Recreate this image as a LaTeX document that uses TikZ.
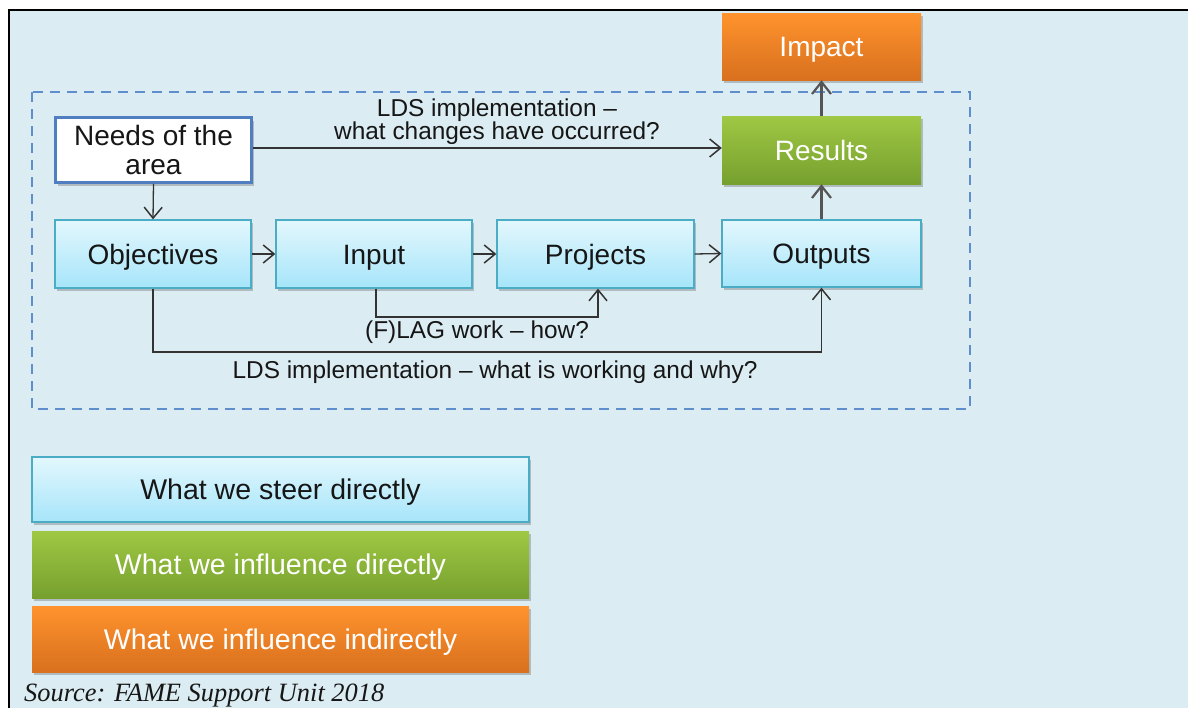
\documentclass[tikz,border=0pt]{standalone}
\usepackage{fontspec}
\setmainfont{Liberation Sans}
\newfontfamily\srcfont{Liberation Serif}
\usetikzlibrary{arrows.meta,shadows}
\definecolor{bg}{HTML}{DBECF2}
\definecolor{lbT}{HTML}{E3F7FD}
\definecolor{lbB}{HTML}{A6E5FA}
\definecolor{lbD}{HTML}{4BACC6}
\definecolor{grT}{HTML}{9FC844}
\definecolor{grB}{HTML}{76A02E}
\definecolor{orT}{HTML}{FF932D}
\definecolor{orB}{HTML}{D8701E}
\definecolor{needD}{HTML}{4F7FC0}
\definecolor{dashC}{HTML}{5E8ECB}
\definecolor{txt}{HTML}{161616}
\definecolor{lnC}{HTML}{333333}
\definecolor{lnG}{HTML}{555555}
\tikzset{
  shad/.style={drop shadow={shadow xshift=2pt,shadow yshift=-3pt,opacity=0.3,fill=black!70}},
  basebox/.style={inner sep=0pt,align=center,font=\fontsize{28}{29}\selectfont,shad},
  oneline/.style={text height=20pt,text depth=0pt},
  bluebox/.style={basebox,draw=lbD,line width=1.3pt,top color=lbT,bottom color=lbB,text=txt},
  greenbox/.style={basebox,top color=grT,bottom color=grB,text=white},
  orangebox/.style={basebox,top color=orT,bottom color=orB,text=white},
  needbox/.style={basebox,draw=needD,line width=2.6pt,fill=white,text=txt},
  legend/.style={minimum width=497pt,font=\fontsize{28.5}{29}\selectfont,oneline},
  arr/.style={draw=lnC,line width=1.3pt,-{Straight Barb[length=11pt,width=18pt,line width=1.5pt]}},
  garr/.style={draw=lnG,line width=2.8pt,-{Straight Barb[length=12pt,width=19pt,line width=2.2pt]}},
  lbl/.style={font=\fontsize{24.4}{23}\selectfont,text=txt,align=center,inner sep=0pt},
}
\begin{document}
\begin{tikzpicture}[x=1pt,y=-1pt]
\useasboundingbox (0,0) rectangle (1188,707);
% background and frame
\fill[bg] (9,10) rectangle (1195,715);
\draw[black,line width=2pt] (9,715) -- (9,10) -- (1195,10);
% dashed region
\draw[dashC,line width=1.5pt,dash pattern=on 10pt off 7pt] (32,92) rectangle (970,409);
% nodes
\node[orangebox,oneline,minimum width=199pt,minimum height=67pt] (Impact) at (821.5,46.5) {Impact};
\node[greenbox,oneline,minimum width=199pt,minimum height=68pt] (Results) at (821.5,150) {Results};
\node[bluebox,oneline,minimum width=199pt,minimum height=67pt] (Outputs) at (821.5,253.5) {Outputs};
\node[needbox,minimum width=196pt,minimum height=65pt] (Needs) at (153.5,150) {Needs of the\\area};
\node[bluebox,oneline,minimum width=196pt,minimum height=68pt] (Objectives) at (153,254) {Objectives};
\node[bluebox,oneline,minimum width=196pt,minimum height=68pt] (Input) at (374,254) {Input};
\node[bluebox,oneline,minimum width=197pt,minimum height=68pt] (Projects) at (595.5,254) {Projects};
% legend
\node[bluebox,legend,minimum height=65pt] (L1) at (280.5,489.5) {What we steer directly};
\node[greenbox,legend,minimum height=67pt] (L2) at (280.5,564.5) {What we influence directly};
\node[orangebox,legend,minimum height=66pt] (L3) at (280.5,639) {What we influence indirectly};
% connectors
\draw[arr] (Needs.south) -- (Objectives.north);
\draw[arr] (Objectives.east) -- (Input.west);
\draw[arr] (Input.east) -- (Projects.west);
\draw[arr] (Projects.east) -- (Outputs.west);
\draw[arr] ([yshift=2pt]Needs.east) -- ([yshift=2pt]Needs.east -| Results.west);
\draw[garr] (Outputs.north) -- (Results.south);
\draw[garr] (Results.north) -- (Impact.south);
\coordinate (c1) at (376,317);
\coordinate (c2) at (153,352);
\draw[arr] ([xshift=2pt]Input.south) -- (c1) -| ([xshift=2.5pt]Projects.south);
\draw[arr] (Objectives.south) -- (c2) -| (Outputs.south);
% labels
\node[lbl] (t1) at (497,122) {LDS implementation –\\what changes have occurred?};
\node[lbl] (t2) at (477,332) {(F)LAG work – how?};
\node[lbl] (t3) at (495,372) {LDS implementation – what is working and why?};
\node[anchor=base west,inner sep=0pt,font=\srcfont\itshape\fontsize{26.4}{28}\selectfont,text=txt] (src) at (24,701) {Source: FAME Support Unit 2018};
\end{tikzpicture}
\end{document}
